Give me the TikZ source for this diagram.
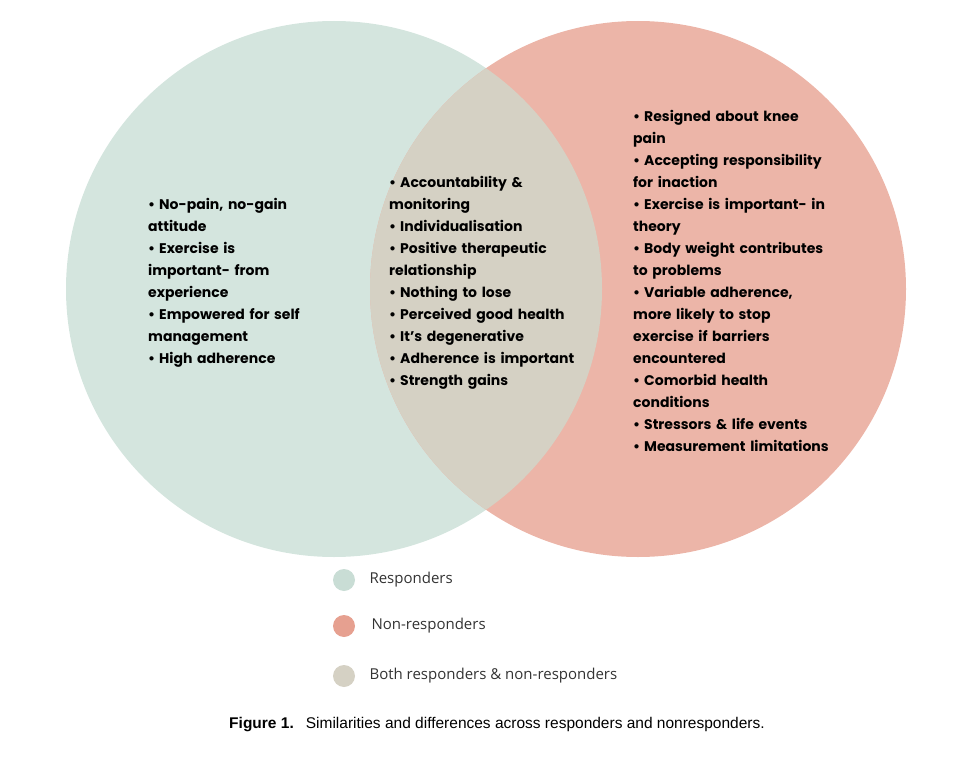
\documentclass[tikz,border=0pt]{standalone}
\usepackage{fontspec}
\setmainfont{Poppins}
\newfontfamily\capfont{Liberation Sans}
\newfontfamily\legfont{Open Sans}
\definecolor{respcol}{HTML}{D4E5DE}
\definecolor{nonrcol}{HTML}{ECB5A8}
\definecolor{bothcol}{HTML}{D5D1C4}
\definecolor{legresp}{HTML}{C9DDD5}
\definecolor{legnonr}{HTML}{E6A090}
\newcommand{\itm}[1]{\par\noindent\hangindent=11pt\hbox to 11pt{\textbullet\hfil}#1}
\tikzset{
  listtext/.style={anchor=north west, inner sep=0pt, text width=260pt, align=left,
    font=\fontsize{14}{22}\selectfont\bfseries},
  legdot/.style={circle, minimum size=22pt, inner sep=0pt},
  legtext/.style={anchor=west, font=\legfont\fontsize{15}{18}\selectfont, text=black!80}
}
\begin{document}
\begin{tikzpicture}[x=1pt,y=-1pt]
\useasboundingbox (0,0) rectangle (962,760);
%circles
\coordinate (L) at (334,289);
\coordinate (R) at (638,289);
\fill[respcol] (L) circle (268);
\fill[nonrcol] (R) circle (268);
\begin{scope}
\clip (R) circle (268);
\fill[bothcol] (L) circle (268);
\end{scope}
%lists
\node[listtext] (resp) at (148,187) {%
\itm{No-pain, no-gain\\attitude}
\itm{Exercise is\\important- from\\experience}
\itm{Empowered for self\\management}
\itm{High adherence}};
\node[listtext] (both) at (389,165) {%
\itm{Accountability \&\\monitoring}
\itm{Individualisation}
\itm{Positive therapeutic\\relationship}
\itm{Nothing to lose}
\itm{Perceived good health}
\itm{It's degenerative}
\itm{Adherence is important}
\itm{Strength gains}};
\node[listtext] (nonr) at (633,99) {%
\itm{Resigned about knee\\pain}
\itm{Accepting responsibility\\for inaction}
\itm{Exercise is important- in\\theory}
\itm{Body weight contributes\\to problems}
\itm{Variable adherence,\\more likely to stop\\exercise if barriers\\encountered}
\itm{Comorbid health\\conditions}
\itm{Stressors \& life events}
\itm{Measurement limitations}};
%legend
\node[legdot, fill=legresp] (d1) at (344,580) {};
\node[legdot, fill=legnonr] (d2) at (344,626) {};
\node[legdot, fill=bothcol] (d3) at (344,676) {};
\node[legtext] (t1) at (366,580) {Responders};
\node[legtext] (t2) at (368,626) {Non-responders};
\node[legtext] (t3) at (366,676) {Both responders \& non-responders};
%caption
\node[font=\capfont\fontsize{15.5}{18}\selectfont] (cap) at (497,725)
  {\textbf{Figure 1.}\hspace{12pt}Similarities and differences across responders and nonresponders.};
\end{tikzpicture}
\end{document}
